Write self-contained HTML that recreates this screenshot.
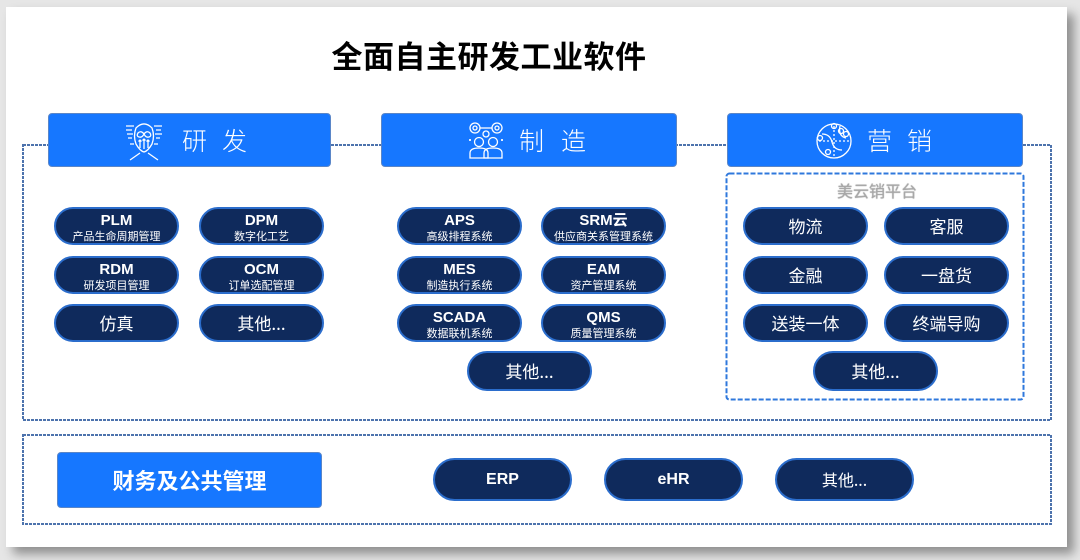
<!DOCTYPE html>
<html><head><meta charset="utf-8">
<style>
html,body{margin:0;padding:0;}
body{width:1080px;height:560px;position:relative;overflow:hidden;background:#e6e6e6;font-family:"Liberation Sans","Noto Sans CJK SC",sans-serif;}
#panel{position:absolute;left:6px;top:7px;width:1061px;height:540px;background:#fff;box-shadow:7px 7px 10px rgba(0,0,0,0.38);}
.abs{position:absolute;}
.title{position:absolute;left:289px;width:400px;top:38px;height:40px;line-height:40px;text-align:center;font-size:31px;font-weight:bold;color:#000;letter-spacing:0.5px;}
.hdr{position:absolute;top:113px;height:54px;background:#1677ff;border:1px solid #5a86c8;border-radius:4px;box-sizing:border-box;}
.htxt{position:absolute;top:124px;height:32px;line-height:32px;font-size:25px;font-weight:300;color:#fff;font-family:"Noto Sans CJK SC",sans-serif;}
.pill{position:absolute;width:125px;height:38px;border-radius:19px;background:#0f2a5c;border:2px solid #2b6dcc;box-sizing:border-box;color:#fff;text-align:center;}
.pill .t{display:block;font-size:15px;font-weight:bold;line-height:15px;margin-top:4px;font-family:"Liberation Sans","Noto Sans CJK SC",sans-serif;}
.pill .s{display:block;font-size:11px;line-height:13px;margin-top:2px;font-family:"Noto Sans CJK SC",sans-serif;}
.pill .c{display:block;font-size:17px;line-height:34px;font-family:"Noto Sans CJK SC",sans-serif;}
.big{height:40px;border-radius:20px;}
.big .c{line-height:36px;}
.bp{width:139px;height:43px;border-radius:22px;}
.bp .c{line-height:39px;font-size:16px;}
.bp .e{display:block;font-size:16px;font-weight:bold;line-height:39px;}
</style></head>
<body>
<div id="panel"></div>

<svg class="abs" style="left:0;top:0" width="1080" height="560">
  <g fill="none" stroke="#4d73ad" stroke-width="2" stroke-dasharray="3 1">
    <rect x="23" y="145" width="1028" height="275"/>
    <rect x="23" y="435" width="1028" height="89"/>
  </g>
  <rect x="726.5" y="173.5" width="297" height="226" rx="3" fill="none" stroke="#2f78dc" stroke-width="2" stroke-dasharray="5 2"/>
</svg>

<div class="title">全面自主研发工业软件</div>

<!-- headers -->
<div class="hdr" style="left:48px;width:283px;"></div>
<div class="hdr" style="left:381px;width:296px;"></div>
<div class="hdr" style="left:727px;width:296px;"></div>

<!-- icons -->
<svg class="abs" style="left:124px;top:120px" width="40" height="42" viewBox="0 0 40 42" fill="none" stroke="#fff" stroke-width="1.3">
  <path d="M12 8 Q20 0 28 8 Q31 16 28 24 Q24 31 20 32 Q16 31 12 24 Q9 16 12 8Z"/>
  <path d="M20 14 q-3 -4 -6 -1 q-2 3 1 4 q3 1 5 -3 q3 -4 6 -1 q2 3 -1 4 q-3 1 -5 -3"/>
  <path d="M16 28 V20 M20 29 V19 M24 28 V20 M14.5 21.5 L16 20 L17.5 21.5 M18.5 20.5 L20 19 L21.5 20.5 M22.5 21.5 L24 20 L25.5 21.5"/>
  <path d="M2 6 H10 M2 10 H8 M3 14 H9 M4 18 H8 M30 6 H38 M32 10 H37 M31 14 H38 M32 18 H36 M6 24 H10 M30 24 H34"/>
  <path d="M6 40 L16 33 M34 40 L24 33"/>
</svg>
<svg class="abs" style="left:466px;top:120px" width="40" height="42" viewBox="0 0 40 42" fill="none" stroke="#fff" stroke-width="1.3">
  <circle cx="9" cy="8" r="5"/><circle cx="9" cy="8" r="2"/>
  <circle cx="31" cy="8" r="5"/><circle cx="31" cy="8" r="2"/>
  <path d="M14 8 H26"/>
  <circle cx="20" cy="14" r="3"/>
  <circle cx="13" cy="22" r="4.5"/><path d="M4 38 V33 Q4 28 13 28 Q22 28 22 33 V38 Z"/>
  <circle cx="27" cy="22" r="4.5"/><path d="M18 38 V33 Q18 28 27 28 Q36 28 36 33 V38 Z"/>
  <path d="M3 20 H5 M35 20 H37 M4 19 V21 M36 19 V21"/>
</svg>
<svg class="abs" style="left:814px;top:120px" width="40" height="42" viewBox="0 0 40 42" fill="none" stroke="#fff" stroke-width="1.3">
  <circle cx="20" cy="21" r="17"/>
  <path d="M20 6 V36 M5 21 H35" stroke-dasharray="2 2"/>
  <path d="M8 14 Q16 14 18 22 Q20 30 28 30 M26 6 Q24 16 32 18"/>
  <circle cx="20" cy="6" r="2.5"/><circle cx="27" cy="11" r="2.5"/><circle cx="32" cy="14" r="2.5"/>
  <circle cx="6" cy="18" r="2.5"/><circle cx="14" cy="32" r="2.5"/>
</svg>

<div class="htxt" style="left:182px;letter-spacing:15px;">研发</div>
<div class="htxt" style="left:519px;letter-spacing:17px;">制造</div>
<div class="htxt" style="left:867px;letter-spacing:15px;">营销</div>

<!-- research pills -->
<div class="pill" style="left:54px;top:207px;"><span class="t">PLM</span><span class="s">产品生命周期管理</span></div>
<div class="pill" style="left:199px;top:207px;"><span class="t">DPM</span><span class="s">数字化工艺</span></div>
<div class="pill" style="left:54px;top:256px;"><span class="t">RDM</span><span class="s">研发项目管理</span></div>
<div class="pill" style="left:199px;top:256px;"><span class="t">OCM</span><span class="s">订单选配管理</span></div>
<div class="pill" style="left:54px;top:304px;"><span class="c">仿真</span></div>
<div class="pill" style="left:199px;top:304px;"><span class="c">其他...</span></div>

<!-- manufacturing pills -->
<div class="pill" style="left:397px;top:207px;"><span class="t">APS</span><span class="s">高级排程系统</span></div>
<div class="pill" style="left:541px;top:207px;"><span class="t">SRM云</span><span class="s">供应商关系管理系统</span></div>
<div class="pill" style="left:397px;top:256px;"><span class="t">MES</span><span class="s">制造执行系统</span></div>
<div class="pill" style="left:541px;top:256px;"><span class="t">EAM</span><span class="s">资产管理系统</span></div>
<div class="pill" style="left:397px;top:304px;"><span class="t">SCADA</span><span class="s">数据联机系统</span></div>
<div class="pill" style="left:541px;top:304px;"><span class="t">QMS</span><span class="s">质量管理系统</span></div>
<div class="pill big" style="left:467px;top:351px;"><span class="c">其他...</span></div>

<!-- marketing -->
<div class="abs" style="left:817px;width:120px;top:179px;height:22px;line-height:22px;text-align:center;font-size:16px;color:#a8a8a8;font-family:'Noto Sans CJK SC',sans-serif;text-shadow:0 0 1px #888;">美云销平台</div>
<div class="pill" style="left:743px;top:207px;"><span class="c">物流</span></div>
<div class="pill" style="left:884px;top:207px;"><span class="c">客服</span></div>
<div class="pill" style="left:743px;top:256px;"><span class="c">金融</span></div>
<div class="pill" style="left:884px;top:256px;"><span class="c">一盘货</span></div>
<div class="pill" style="left:743px;top:304px;"><span class="c">送装一体</span></div>
<div class="pill" style="left:884px;top:304px;"><span class="c">终端导购</span></div>
<div class="pill big" style="left:813px;top:351px;"><span class="c">其他...</span></div>

<!-- bottom -->
<div class="abs" style="left:57px;top:452px;width:265px;height:56px;background:#1677ff;border:1px solid #5a86c8;border-radius:4px;box-sizing:border-box;color:#fff;text-align:center;line-height:54px;font-size:22px;font-weight:bold;font-family:'Noto Sans CJK SC',sans-serif;">财务及公共管理</div>
<div class="pill bp" style="left:433px;top:458px;"><span class="e">ERP</span></div>
<div class="pill bp" style="left:604px;top:458px;"><span class="e">eHR</span></div>
<div class="pill bp" style="left:775px;top:458px;"><span class="c">其他...</span></div>
</body></html>
